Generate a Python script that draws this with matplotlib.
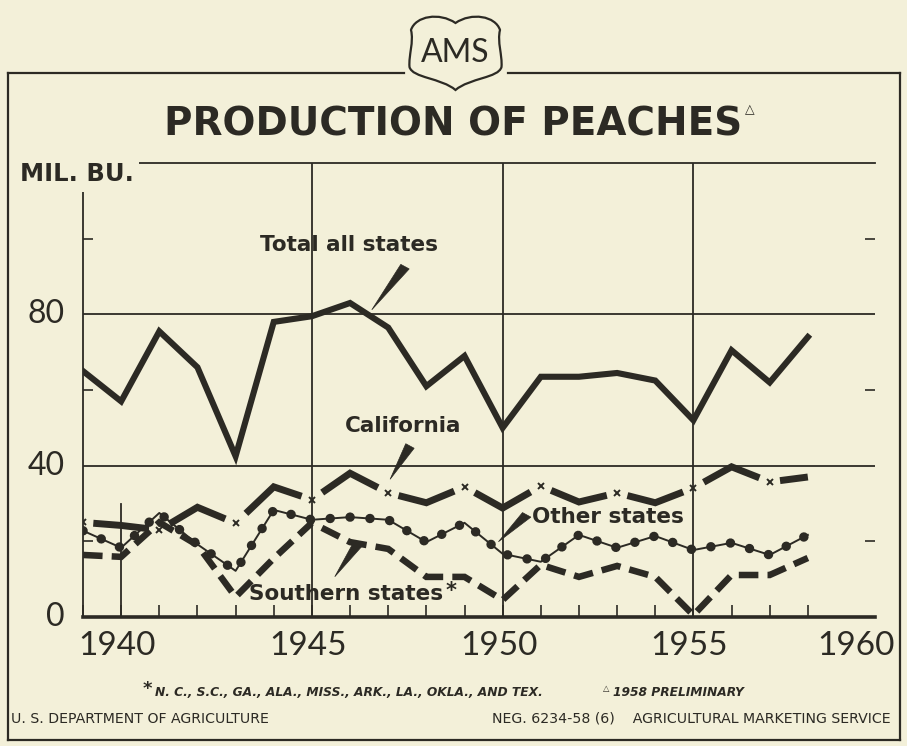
import matplotlib
matplotlib.use("Agg")
import matplotlib.pyplot as plt
from matplotlib.path import Path
from matplotlib.patches import PathPatch, Polygon
from matplotlib.lines import Line2D
from matplotlib import transforms

# ---------------- data (million bushels) ----------------
years = list(range(1939, 1959))
total = [65, 57, 75.5, 66, 42.5, 78, 79.5, 83, 76.5, 61, 69, 50,
         63.5, 63.5, 64.5, 62.5, 52, 70.5, 62, 74]
california = [25, 24.2, 23, 29, 24.8, 34.4, 31, 38, 32.8, 30.2, 34.4, 28.8,
              34.6, 30.4, 32.8, 30.2, 34.1, 39.7, 35.7, 37]
other = [22.8, 18.3, 27.5, 19.2, 12.2, 28.3, 25.7, 26.4, 25.7, 19.8, 24.9, 16.7,
         14.6, 21.7, 18.3, 21.4, 17.7, 19.6, 16.4, 21.7]
southern = [16.4, 15.9, 25, 19, 5.3, 15.5, 24.9, 19.8, 18, 10.6, 10.6, 4.5,
            13.8, 10.6, 13.5, 10.6, 0.5, 11.1, 11.1, 15.6]

year_ticks = [1940, 1945, 1950, 1955, 1960]
year_labels = ["1940", "1945", "1950", "1955", "1960"]
value_ticks = [0, 40, 80]
value_labels = ["0", "40", "80"]
minor_value_ticks = [20, 60, 100]

BG = "#f3f0d9"
INK = "#2c2a24"
FONT = "Lato"
BOLD = "DejaVu Sans"

W, H = 907, 746
def fx(x):
    return x / W
def fy(y):
    return 1 - y / H

fig = plt.figure(figsize=(W / 100, H / 100), dpi=100, facecolor=BG)

# ---------------- axes ----------------
ax = fig.add_axes([fx(83), fy(617), (875 - 83) / W, (617 - 163) / H])
ax.set_facecolor(BG)
ax.set_xlim(1939, 1959.76)
ax.set_ylim(0, 120)

ax.spines["right"].set_visible(False)
ax.spines["left"].set_linewidth(1.3)
ax.spines["top"].set_linewidth(1.3)
ax.spines["bottom"].set_linewidth(2.6)
for s in ax.spines.values():
    s.set_color(INK)

ax.set_xticks(years)
ax.set_xticklabels([])
ax.tick_params(axis="x", direction="in", length=8.5, width=1.2, color=INK, bottom=True, top=False)
ax.set_yticks(minor_value_ticks)
ax.set_yticklabels([])
ax.tick_params(axis="y", direction="in", length=7, width=1.2, color=INK, left=True, right=True)

# grid lines
for v in value_ticks[1:]:
    ax.axhline(v, color=INK, lw=1.3, zorder=1)
for yr in year_ticks[1:4]:
    ax.axvline(yr, color=INK, lw=1.3, zorder=1)
ax.axvline(year_ticks[0], ymin=0, ymax=30 / 120, color=INK, lw=1.3, zorder=1)

# tick labels
xlab_tr = transforms.blended_transform_factory(ax.transData, ax.transAxes)
for t, lab in zip(year_ticks, year_labels):
    off = transforms.ScaledTranslation(-28 / 100 if t == 1960 else -4 / 100, -14 / 100,
                                       fig.dpi_scale_trans)
    ax.text(t, 0, lab, transform=xlab_tr + off, ha="center", va="top",
            fontsize=24, family=FONT, color=INK, clip_on=False)
ylab_tr = transforms.blended_transform_factory(ax.transAxes, ax.transData)
for t, lab in zip(value_ticks, value_labels):
    off = transforms.ScaledTranslation(-18 / 100, 0, fig.dpi_scale_trans)
    ax.text(0, t, lab, transform=ylab_tr + off, ha="right", va="center",
            fontsize=23, family=FONT, color=INK, clip_on=False)

# ---------------- series ----------------
ax.plot(years, total, color=INK, lw=4.4, solid_joinstyle="miter", zorder=4)

# California: thick line broken at odd years, with small x marks
gap = 0.27
n = len(years)
for i in range(0, n - 1, 2):
    x0, y0 = years[i], california[i]
    x1, y1 = years[i + 1], california[i + 1]
    xs = [x0 + gap * (x1 - x0), x1]
    ys = [y0 + gap * (y1 - y0), y1]
    if i + 2 < n:
        x2, y2 = years[i + 2], california[i + 2]
        xs.append(x2 - gap * (x2 - x1))
        ys.append(y2 - gap * (y2 - y1))
    ax.plot(xs, ys, color=INK, lw=5, solid_joinstyle="miter", solid_capstyle="butt", zorder=4)
ax.plot(years[::2], california[::2], linestyle="none", marker="x", ms=5, mew=1.4,
        color=INK, zorder=4)

# Other states: thin line with dots
ax.plot(years, other, color=INK, lw=1.4, zorder=4)
ax.plot(years, other, color=INK, lw=6.8, linestyle=(0, (0.01, 2.1)),
        dash_capstyle="round", zorder=4)

# Southern states: heavy dashed line
ax.plot(years, southern, color=INK, lw=4.7, linestyle=(0, (3.0, 1.4)),
        dash_capstyle="butt", dash_joinstyle="miter", zorder=4)

# ---------------- labels with wedge pointers ----------------
def wedge(top, bottom, half=0.11):
    (xt, yt), (xb, yb) = top, bottom
    ax.add_patch(Polygon([(xt - half, yt + 0.6), (xt + half, yt - 0.6), (xb, yb)],
                         closed=True, facecolor=INK, edgecolor=INK, lw=0.5, zorder=5))

lab_kw = dict(fontsize=15.5, fontweight="bold", family=BOLD, color=INK, ha="center",
              va="center", zorder=6)
ax.text(1945.97, 98.2, "Total all states", **lab_kw)
wedge((1947.44, 92.6), (1946.57, 81.2))
ax.text(1947.39, 50.4, "California", **lab_kw)
wedge((1947.57, 45.2), (1947.05, 36.4))
ax.text(1952.75, 26.3, "Other states", **lab_kw)
wedge((1950.63, 27.0), (1949.89, 19.9))
south_txt = ax.text(1945.9, 6.2, "Southern states", **lab_kw)
ax.annotate("*", xy=(1.0, 0.62), xycoords=south_txt, xytext=(1.5, 0),
            textcoords="offset points", fontsize=15, fontweight="bold", family=BOLD,
            color=INK, ha="left", va="center", zorder=6)
wedge((1946.22, 19.5), (1945.6, 10.65))

# ---------------- figure decorations ----------------
fig.text(fx(20), fy(174), "MIL. BU.", fontsize=17.5, fontweight="bold", family=BOLD,
         color=INK, ha="left", va="center", zorder=10,
         bbox=dict(facecolor=BG, edgecolor="none", pad=4))

fig.text(fx(453), fy(136), "PRODUCTION OF PEACHES", fontsize=28, fontweight="bold",
         family=BOLD, color=INK, ha="center", va="baseline")
fig.text(fx(750), fy(110), "\u25b3", fontsize=9, family="DejaVu Sans", color=INK,
         ha="center", va="center")

# outer frame
frame_kw = dict(color=INK, lw=1.6, transform=fig.transFigure)
fig.add_artist(Line2D([fx(8), fx(404)], [fy(73), fy(73)], **frame_kw))
fig.add_artist(Line2D([fx(508), fx(900)], [fy(73), fy(73)], **frame_kw))
fig.add_artist(Line2D([fx(8), fx(8)], [fy(73), fy(740)], **frame_kw))
fig.add_artist(Line2D([fx(900), fx(900)], [fy(73), fy(740)], **frame_kw))
fig.add_artist(Line2D([fx(8), fx(900)], [fy(740), fy(740)], **frame_kw))

# AMS shield
cx = 455.5
def P(dx, y):
    return (fx(cx + dx), fy(y))
verts = [P(-44.5, 30),
         P(-40, 16), P(-16, 12), P(0, 23),
         P(16, 12), P(40, 16), P(44.5, 30),
         P(41.5, 42), P(47, 55), P(46, 67),
         P(43, 78), P(14, 78), P(0, 90),
         P(-14, 78), P(-43, 78), P(-46, 67),
         P(-47, 55), P(-41.5, 42), P(-44.5, 30),
         P(-44.5, 30)]
codes = ([Path.MOVETO] + [Path.CURVE4] * 18 + [Path.CLOSEPOLY])
shield = PathPatch(Path(verts, codes), facecolor=BG, edgecolor=INK, lw=1.6,
                   transform=fig.transFigure)
fig.add_artist(shield)
fig.text(fx(cx), fy(53), "AMS", fontsize=23, family=FONT, color=INK,
         ha="center", va="center")

# footnotes
fig.text(fx(147), fy(689), "*", fontsize=13, fontweight="bold", family=BOLD,
         color=INK, ha="center", va="center")
fig.text(fx(155), fy(692), "N. C., S.C., GA., ALA., MISS., ARK., LA., OKLA., AND TEX.",
         fontsize=8.8, fontstyle="italic", fontweight="bold", family=BOLD, color=INK,
         ha="left", va="center")
fig.text(fx(606), fy(688), "\u25b3", fontsize=6, family="DejaVu Sans", color=INK,
         ha="center", va="center")
fig.text(fx(613), fy(692), "1958 PRELIMINARY", fontsize=8.8, fontstyle="italic",
         fontweight="bold", family=BOLD, color=INK, ha="left", va="center")

fig.text(fx(11), fy(719), "U. S. DEPARTMENT OF AGRICULTURE", fontsize=10.2,
         family=BOLD, color=INK, ha="left", va="center")
fig.text(fx(891), fy(719), "NEG. 6234-58 (6)    AGRICULTURAL MARKETING SERVICE",
         fontsize=10.2, family=BOLD, color=INK, ha="right", va="center")

fig.savefig("out.png", dpi=100, facecolor=BG)
